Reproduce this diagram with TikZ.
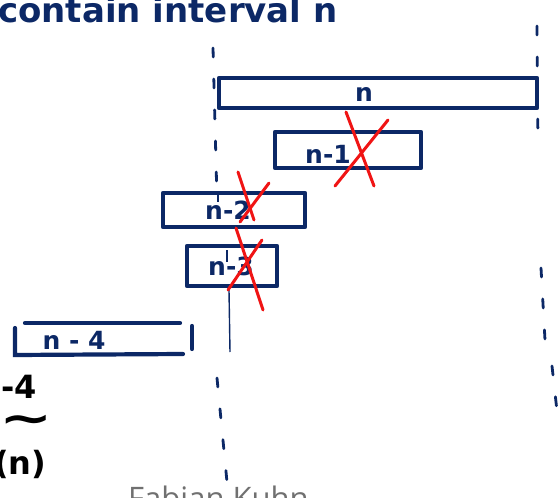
\documentclass[tikz,border=0pt]{standalone}
\usepackage{fontspec}
\setmainfont{DejaVu Sans}
\newfontfamily\footfont{Open Sans}
\definecolor{ink}{RGB}{12,40,102}
\definecolor{redx}{RGB}{240,20,20}
\definecolor{footgray}{RGB}{112,112,112}
\tikzset{
  ivbox/.style={draw=ink, line width=4.2pt, rectangle, inner sep=0pt, line join=round,
    text=ink, font=\fontsize{25}{28}\selectfont\bfseries},
  ivlabel/.style={text=ink, font=\fontsize{25}{28}\selectfont\bfseries, inner sep=0pt},
  cross/.style={draw=redx, line width=3pt, line cap=round},
  dashline/.style={draw=ink, line width=2.8pt, line cap=round, dash pattern=on 9pt off 22pt},
  thinline/.style={draw=ink, line width=1.4pt},
  inkline/.style={draw=ink, line width=4.2pt, line cap=round},
  handtext/.style={inner sep=0pt, anchor=base west}
}
\begin{document}
\begin{tikzpicture}[x=1pt,y=-1pt]
\useasboundingbox[fill=white] (0,0) rectangle (558,498);

% title (cut off at the top)
\node[handtext, text=ink, font=\fontsize{34}{38}\selectfont\bfseries] (title) at (-2,22) {contain interval n};

% dashed guide lines
\draw[dashline] (213,48) -- (217,200);
\draw[dashline] (217,378) -- (227,482);
\draw[dashline] (537,26) -- (538,145);
\draw[dashline] (541,268) -- (545,340);
\draw[dashline] (552,366) -- (558,420);

% intervals
\node[ivbox, minimum width=318pt, minimum height=30pt] (n) at (378,93) {};
\node[ivlabel] (nl) at (364,94) {n};
\node[ivbox, minimum width=146pt, minimum height=36pt] (n1) at (348,150) {};
\node[ivlabel] (n1l) at (328,154) {n-1};
\node[ivbox, minimum width=142pt, minimum height=34pt] (n2) at (234,210) {};
\node[ivlabel] (n2l) at (228,210) {n-2};
\node[ivbox, minimum width=90pt, minimum height=40pt] (n3) at (232,266) {};
\node[ivlabel] (n3l) at (231,266) {n-3};

% n-4 with open right side
\coordinate (a1) at (25,323);
\coordinate (a2) at (180,323);
\coordinate (b1) at (15,328);
\coordinate (b2) at (15,355);
\coordinate (b3) at (183,354);
\draw[inkline] (a1) -- (a2);
\draw[inkline] (b1) -- (b2) -- (b3);
\draw[inkline] (192,326) -- (192,349);
\node[ivlabel] (n4l) at (74,340) {n - 4};

% ticks of the left guide inside boxes and the thin continuation
\draw[thinline] (218,193) -- (218,202);
\draw[thinline] (227,250) -- (227,262);
\draw[thinline] (229,290) -- (230,352);

% red crosses
\draw[cross] (346,112) -- (374,186);
\draw[cross] (388,120) -- (335,186);
\draw[cross] (238,172) -- (254,220);
\draw[cross] (269,183) -- (240,222);
\draw[cross] (236,228) -- (263,310);
\draw[cross] (262,240) -- (228,290);

% black handwriting at lower left (cut off)
\node[handtext, font=\fontsize{32}{34}\selectfont\bfseries] (m4) at (1,398) {-4};
\node[inner sep=0pt, xscale=1.45, font=\fontsize{44}{44}\selectfont\bfseries] (tl) at (26,424) {\char"7E};
\node[handtext, font=\fontsize{32}{34}\selectfont\bfseries] (pn) at (-6,474) {(n)};

% footer
\node[handtext, text=footgray, font=\footfont\fontsize{31}{34}\selectfont] (foot) at (128,509) {Fabian Kuhn};
\end{tikzpicture}
\end{document}
